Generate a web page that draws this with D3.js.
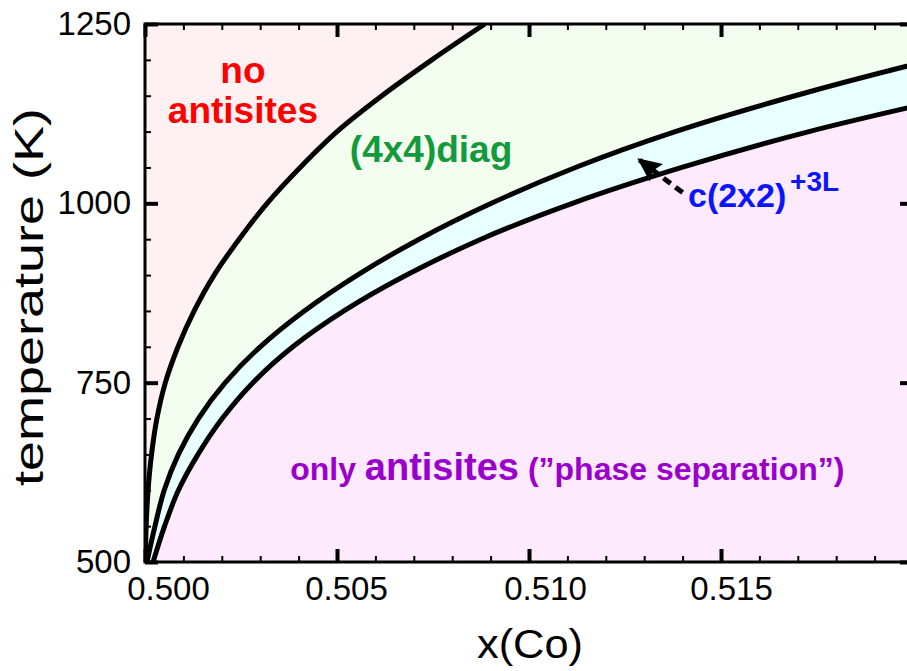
<!DOCTYPE html>
<html>
<head>
<meta charset="utf-8">
<script src="https://cdn.jsdelivr.net/npm/d3@7"></script>
<style>
  body { margin: 0; background: #fff; }
  svg { display: block; font-family: "Liberation Sans", Arial, Helvetica, sans-serif; }
</style>
</head>
<body>
<svg id="chart" width="907" height="671"></svg>
<script>
/* Phase diagram: boundaries x(Co) vs temperature */

// temperatures (K) at which the boundaries were read
var tempsK = [500, 550, 600, 650, 700, 750, 800, 850, 900, 950, 1000, 1050, 1100, 1150, 1200, 1250];
// boundary: no antisites | (4x4)diag
var xNoAntisites = [0.50001, 0.50003, 0.50008, 0.50017, 0.50031, 0.50053, 0.50086, 0.50128, 0.50180, 0.50245, 0.50318, 0.50404, 0.50500, 0.50617, 0.50747, 0.50885];
// boundary: (4x4)diag | c(2x2)+3L
var x4x4Diag = [0.50005, 0.50026, 0.50050, 0.50087, 0.50139, 0.50209, 0.50300, 0.50415, 0.50553, 0.50714, 0.50902, 0.51121, 0.51381, 0.51693, 0.52050, 0.52453];
// boundary: c(2x2)+3L | only antisites
var xC2x2 = [0.50021, 0.50051, 0.50087, 0.50138, 0.50201, 0.50281, 0.50385, 0.50518, 0.50681, 0.50875, 0.51113, 0.51398, 0.51729, 0.52125, 0.52560, 0.53047];

var xMajor = [0.500, 0.505, 0.510, 0.515];
var yMajor = [500, 750, 1000, 1250];

var svg = d3.select('#chart');
var x = d3.scaleLinear().domain([0.5, 0.52]).range([145, 913]);
var y = d3.scaleLinear().domain([500, 1250]).range([562, 24]);

var xMinor = d3.range(0.500, 0.5205, 0.001).filter(function(v) { return Math.abs(v * 200 - Math.round(v * 200)) > 1e-6; });
var yMinor = d3.range(500, 1251, 50).filter(function(v) { return v % 250 !== 0; });

var defs = svg.append('defs');
defs.append('clipPath').attr('id', 'plot-clip')
  .append('rect').attr('x', 145).attr('y', 24).attr('width', 768).attr('height', 538);
defs.append('marker').attr('id', 'arrow-head')
  .attr('viewBox', '0 -11 24 22').attr('refX', 22).attr('refY', 0)
  .attr('markerWidth', 24).attr('markerHeight', 22).attr('markerUnits', 'userSpaceOnUse')
  .attr('orient', 'auto')
  .append('path').attr('d', 'M0,-11L24,0L0,11L4,0Z').attr('fill', '#000');

function pts(xs) {
  return xs.map(function(v, i) { return { x: v, T: tempsK[i] }; });
}
var line = d3.line().x(function(d) { return x(d.x); }).y(function(d) { return y(d.T); })
  .curve(d3.curveCatmullRom.alpha(0.5));

// region fills: area right of a boundary
function regionRight(xs) {
  var p = pts(xs);
  var far = 1300;
  return line(p) + 'L' + far + ',' + y(p[p.length - 1].T) + 'L' + far + ',' + y(500) + 'Z';
}

var plot = svg.append('g').attr('clip-path', 'url(#plot-clip)');
plot.append('rect').attr('x', 145).attr('y', 24).attr('width', 768).attr('height', 538).attr('fill', '#fff1f1');
plot.append('path').attr('d', regionRight(xNoAntisites)).attr('fill', '#f2fcef');
plot.append('path').attr('d', regionRight(x4x4Diag)).attr('fill', '#e8ffff');
plot.append('path').attr('d', regionRight(xC2x2)).attr('fill', '#fdeafd');

[xNoAntisites, x4x4Diag, xC2x2].forEach(function(xs) {
  plot.append('path').attr('d', line(pts(xs)))
    .attr('fill', 'none').attr('stroke', '#000').attr('stroke-width', 5).attr('stroke-linejoin', 'round');
});

// axes: inward ticks on all four sides
function styleTicks(g, w) {
  g.select('.domain').remove();
  g.selectAll('.tick line').attr('stroke', '#000').attr('stroke-width', w);
}
var xLabelShift = [23, 9, 16, 10];

svg.append('g').attr('transform', 'translate(0,562)')
  .call(d3.axisBottom(x).tickValues(xMinor).tickSize(-6).tickFormat(''))
  .call(styleTicks, 2);
svg.append('g').attr('transform', 'translate(0,562)')
  .call(d3.axisBottom(x).tickValues(xMajor).tickSize(-13).tickPadding(15).tickFormat(d3.format('.3f')))
  .call(styleTicks, 4)
  .selectAll('text').attr('dx', function(d, i) { return xLabelShift[i]; });
svg.append('g').attr('transform', 'translate(0,24)')
  .call(d3.axisTop(x).tickValues(xMinor).tickSize(-6).tickFormat(''))
  .call(styleTicks, 2);
svg.append('g').attr('transform', 'translate(0,24)')
  .call(d3.axisTop(x).tickValues(xMajor).tickSize(-13).tickFormat(''))
  .call(styleTicks, 4);

svg.append('g').attr('transform', 'translate(145,0)')
  .call(d3.axisLeft(y).tickValues(yMinor).tickSize(-6).tickFormat(''))
  .call(styleTicks, 2);
svg.append('g').attr('transform', 'translate(145,0)')
  .call(d3.axisLeft(y).tickValues(yMajor).tickSize(-13).tickPadding(14).tickFormat(d3.format('d')))
  .call(styleTicks, 4);
svg.append('g').attr('transform', 'translate(913,0)')
  .call(d3.axisRight(y).tickValues(yMinor).tickSize(-6).tickFormat(''))
  .call(styleTicks, 2);
svg.append('g').attr('transform', 'translate(913,0)')
  .call(d3.axisRight(y).tickValues(yMajor).tickSize(-13).tickFormat(''))
  .call(styleTicks, 4);

svg.selectAll('.tick text').attr('font-family', '"Liberation Sans", Arial, sans-serif')
  .attr('font-size', 33).attr('fill', '#000');

// frame
svg.append('rect').attr('x', 145).attr('y', 24).attr('width', 768).attr('height', 538)
  .attr('fill', 'none').attr('stroke', '#000').attr('stroke-width', 3);

// axis titles
svg.append('text').attr('x', 530).attr('y', 658).attr('text-anchor', 'middle')
  .attr('font-size', 40).attr('textLength', 106).attr('lengthAdjust', 'spacingAndGlyphs')
  .text('x(Co)');
svg.append('text').attr('transform', 'translate(43,297) rotate(-90)').attr('text-anchor', 'middle')
  .attr('font-size', 41).attr('textLength', 378).attr('lengthAdjust', 'spacingAndGlyphs')
  .text('temperature (K)');

// region labels
var lab = svg.append('g').attr('font-weight', 'bold');
lab.append('text').attr('x', x(0.50255)).attr('y', y(1168)).attr('text-anchor', 'middle')
  .attr('font-size', 37).attr('fill', '#ff0000').text('no');
lab.append('text').attr('x', x(0.50255)).attr('y', y(1112)).attr('text-anchor', 'middle')
  .attr('font-size', 37).attr('fill', '#ff0000').text('antisites');
lab.append('text').attr('x', x(0.50745)).attr('y', y(1058)).attr('text-anchor', 'middle')
  .attr('font-size', 37).attr('fill', '#129a3c').text('(4x4)diag');
lab.append('text').attr('x', x(0.51414)).attr('y', y(995))
  .attr('font-size', 34).attr('fill', '#0a14ff').text('c(2x2)');
lab.append('text').attr('x', x(0.51680)).attr('y', y(1017))
  .attr('font-size', 28).attr('fill', '#0a14ff').text('+3L');

var only = lab.append('text').attr('x', x(0.50378)).attr('y', y(615)).attr('fill', '#9900cc').attr('font-size', 32);
only.append('tspan').text('only ');
only.append('tspan').attr('font-size', 38).text('antisites');
only.append('tspan').text(' (\u201dphase separation\u201d)');

// arrow to the c(2x2) band
svg.append('line')
  .attr('x1', x(0.51400)).attr('y1', y(1015)).attr('x2', x(0.51286)).attr('y2', y(1061))
  .attr('stroke', '#000').attr('stroke-width', 5).attr('stroke-dasharray', '9,6')
  .attr('marker-end', 'url(#arrow-head)');
</script>
</body>
</html>
